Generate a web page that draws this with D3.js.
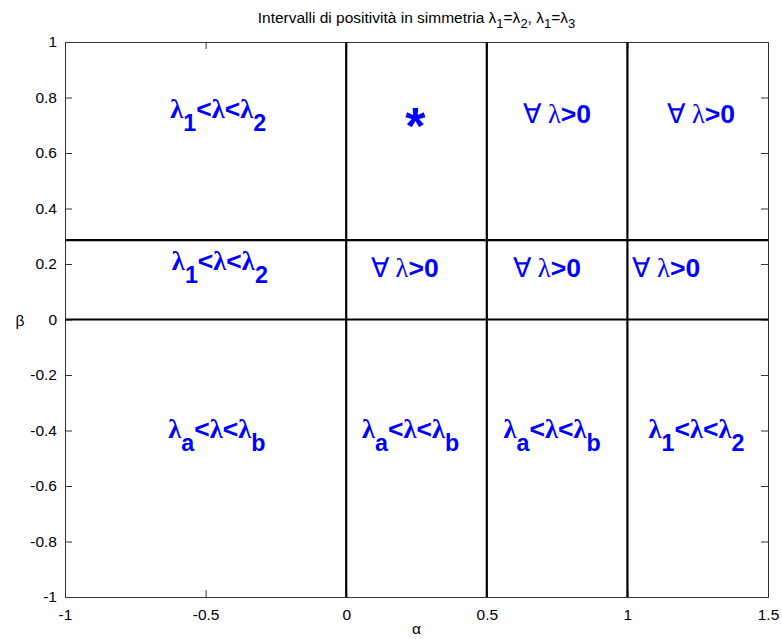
<!DOCTYPE html>
<html>
<head>
<meta charset="utf-8">
<script src="https://cdn.jsdelivr.net/npm/d3@7"></script>
<style>
  html, body { margin: 0; padding: 0; background: #fff; }
  svg { display: block; }
  text { font-family: Arial, "Liberation Sans", sans-serif; }
</style>
</head>
<body>
<svg id="chart" width="782" height="639"></svg>
<script>
// Axis ranges and ticks
const xDomain = [-1, 1.5];
const yDomain = [-1, 1];
const xTicks = [-1, -0.5, 0, 0.5, 1, 1.5];
const yTicks = [-1, -0.8, -0.6, -0.4, -0.2, 0, 0.2, 0.4, 0.6, 0.8, 1];

// Region boundaries
const alphaBounds = [0, 0.5, 1];
const betaBounds = [0, 0.286];

// Region annotations: left anchor (alpha), baseline (beta), kind and subscripts
const labelAlpha = [-0.626, 0.21, 0.63, 1.142, -0.62, 0.088, 0.594, 1.018, -0.633, 0.056, 0.559, 1.075];
const labelBeta  = [0.726, 0.705, 0.708, 0.708, 0.178, 0.154, 0.154, 0.154, -0.427, -0.427, -0.427, -0.427];
const labelKind  = ["range", "star", "all", "all", "range", "all", "all", "all", "range", "range", "range", "range"];
const labelSubs  = [["1","2"], null, null, null, ["1","2"], null, null, null, ["a","b"], ["a","b"], ["a","b"], ["1","2"]];

const svg = d3.select("#chart");
const margin = { left: 65, right: 782 - 768, top: 42, bottom: 639 - 597 };
const W = 782, H = 639;

const x = d3.scaleLinear().domain(xDomain).range([margin.left, W - margin.right]);
const y = d3.scaleLinear().domain(yDomain).range([H - margin.bottom, margin.top]);

const axisColor = "#333";
const tickLen = 7;
const fmt = d => String(d);

// Axes (ticks pointing inward, box on)
const gx = svg.append("g").attr("transform", `translate(0,${y(-1)})`)
  .call(d3.axisBottom(x).tickValues(xTicks).tickSize(-tickLen).tickPadding(12).tickFormat(fmt));
const gy = svg.append("g").attr("transform", `translate(${x(-1)},0)`)
  .call(d3.axisLeft(y).tickValues(yTicks).tickSize(-tickLen).tickPadding(8).tickFormat(fmt));
const gxt = svg.append("g").attr("transform", `translate(0,${y(1)})`)
  .call(d3.axisTop(x).tickValues(xTicks).tickSize(-tickLen).tickFormat(""));
const gyr = svg.append("g").attr("transform", `translate(${x(1.5)},0)`)
  .call(d3.axisRight(y).tickValues(yTicks).tickSize(-tickLen).tickFormat(""));

[gx, gy, gxt, gyr].forEach(g => {
  g.select(".domain").attr("stroke", axisColor).attr("stroke-width", 1);
  g.selectAll(".tick line").attr("stroke", axisColor).attr("stroke-width", 1);
  g.selectAll(".tick text").attr("fill", "#000").attr("font-size", 15.5)
    .attr("font-family", "Arial, 'Liberation Sans', sans-serif");
});
gx.selectAll(".tick text").attr("dy", "0.71em");

// Region boundary lines
svg.append("g").selectAll("line").data(alphaBounds).join("line")
  .attr("x1", d => x(d)).attr("x2", d => x(d))
  .attr("y1", y(1)).attr("y2", y(-1))
  .attr("stroke", "#000").attr("stroke-width", 2.2);
svg.append("g").selectAll("line").data(betaBounds).join("line")
  .attr("x1", x(-1)).attr("x2", x(1.5))
  .attr("y1", d => y(d)).attr("y2", d => y(d))
  .attr("stroke", "#000").attr("stroke-width", 2.2);

// Region annotations
const blue = "#0000ff";
const fs = 26.5;
const lamFont = "'Liberation Serif', 'Times New Roman', serif";
const labels = labelAlpha.map((a, i) => ({ a, b: labelBeta[i], kind: labelKind[i], subs: labelSubs[i] }));

labels.forEach(d => {
  const t = svg.append("text")
    .attr("x", x(d.a)).attr("y", y(d.b))
    .attr("fill", blue).attr("font-size", fs).attr("font-weight", "bold");
  if (d.kind === "star") {
    t.attr("font-size", 52).attr("y", y(d.b) + 20).text("*");
  } else if (d.kind === "all") {
    t.append("tspan").attr("font-family", lamFont).attr("font-weight", "normal").text("\u2200 \u03bb");
    t.append("tspan").text(">0");
  } else {
    t.append("tspan").attr("font-family", lamFont).text("\u03bb");
    t.append("tspan").attr("dy", 13).attr("font-size", fs * 0.88).text(d.subs[0]);
    t.append("tspan").attr("dy", -13).text("<");
    t.append("tspan").attr("font-family", lamFont).text("\u03bb");
    t.append("tspan").text("<");
    t.append("tspan").attr("font-family", lamFont).text("\u03bb");
    t.append("tspan").attr("dy", 13).attr("font-size", fs * 0.88).text(d.subs[1]);
  }
});

// Title
const title = svg.append("text").attr("x", (x(-1) + x(1.5)) / 2).attr("y", 23)
  .attr("text-anchor", "middle").attr("font-size", 15.5).attr("fill", "#000");
title.append("tspan").text("Intervalli di positività in simmetria \u03bb");
title.append("tspan").attr("dy", 5).attr("font-size", 13).text("1");
title.append("tspan").attr("dy", -5).text("=\u03bb");
title.append("tspan").attr("dy", 5).attr("font-size", 13).text("2");
title.append("tspan").attr("dy", -5).text(", \u03bb");
title.append("tspan").attr("dy", 5).attr("font-size", 13).text("1");
title.append("tspan").attr("dy", -5).text("=\u03bb");
title.append("tspan").attr("dy", 5).attr("font-size", 13).text("3");

// Axis labels
svg.append("text").attr("x", (x(-1) + x(1.5)) / 2).attr("y", 634)
  .attr("text-anchor", "middle").attr("font-size", 15.5).attr("fill", "#000").text("\u03b1");
svg.append("text").attr("x", 20).attr("y", y(0) + 6)
  .attr("text-anchor", "middle").attr("font-size", 15.5).attr("fill", "#000").text("\u03b2");
</script>
</body>
</html>
